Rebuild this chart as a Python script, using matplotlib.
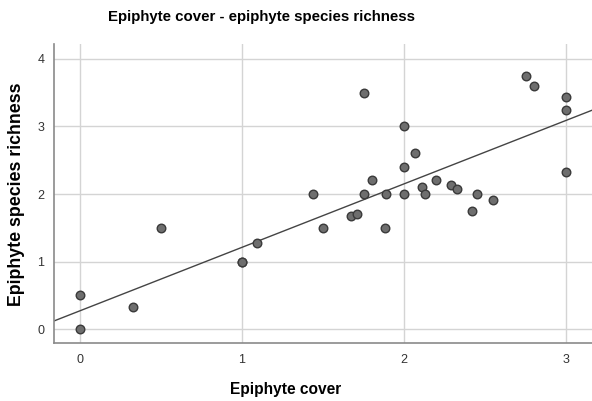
import numpy as np
import matplotlib
matplotlib.use("Agg")
import matplotlib.pyplot as plt

plt.rcParams['font.family'] = ['Liberation Sans', 'DejaVu Sans']

cover = [0, 0, 0.33, 0.5, 1.0, 1.0, 1.09, 1.44, 1.50, 1.67, 1.71, 1.75, 1.75, 1.80,
         1.88, 1.89, 2.0, 2.0, 2.0, 2.07, 2.11, 2.13, 2.2, 2.29, 2.33, 2.42, 2.45,
         2.55, 2.75, 2.80, 3.0, 3.0, 3.0]
richness = [0.5, 0.0, 0.33, 1.5, 1.0, 1.0, 1.27, 2.0, 1.5, 1.67, 1.71, 3.5, 2.0, 2.2,
            1.5, 2.0, 3.0, 2.4, 2.0, 2.6, 2.11, 2.0, 2.2, 2.14, 2.08, 1.75, 2.0,
            1.91, 3.75, 3.6, 3.43, 3.25, 2.33]
# fit line
fit_slope = 0.94
fit_intercept = 0.27
xticks = [0, 1, 2, 3]
yticks = [0, 1, 2, 3, 4]

fig = plt.figure(figsize=(5.92, 4.01), dpi=100)
ax = fig.add_axes([0.0912, 0.1446, 0.9088, 0.7454])
ax.set_xlim(-0.16, 3.16)
ax.set_ylim(-0.207, 4.22)
ax.set_xticks(xticks)
ax.set_yticks(yticks)
ax.grid(True, color='#d4d4d4', linewidth=1.0)
ax.set_axisbelow(True)
for s in ['top', 'right']:
    ax.spines[s].set_visible(False)
for s in ['left', 'bottom']:
    ax.spines[s].set_color('#8a8a8a')
    ax.spines[s].set_linewidth(1.2)
ax.tick_params(length=0, labelsize=9, colors='#333333', pad=8)
ax.tick_params(axis='y', pad=7)

x = np.array(cover)
y = np.array(richness)
xl = np.array(ax.get_xlim())
ax.plot(xl, fit_slope * xl + fit_intercept, color='#444444', linewidth=1.0, zorder=2)
ax.scatter(x, y, s=38, color='#6e6e6e', edgecolor='#3a3a3a', linewidth=1.0, zorder=3)

ax.set_xlabel('Epiphyte cover', fontsize=11.2, fontweight='bold')
ax.xaxis.set_label_coords((286 - 54) / 538, -(382 - 343) / 299)
ax.set_ylabel('Epiphyte species richness', fontsize=12.8, fontweight='bold')
ax.yaxis.set_label_coords(-(54 - 25) / 538, (343 - 194) / 299)
fig.text(261 / 592, 1 - 17 / 401, 'Epiphyte cover - epiphyte species richness',
         fontsize=10.8, fontweight='bold', ha='center', va='center')

fig.savefig('out.png', dpi=100)
